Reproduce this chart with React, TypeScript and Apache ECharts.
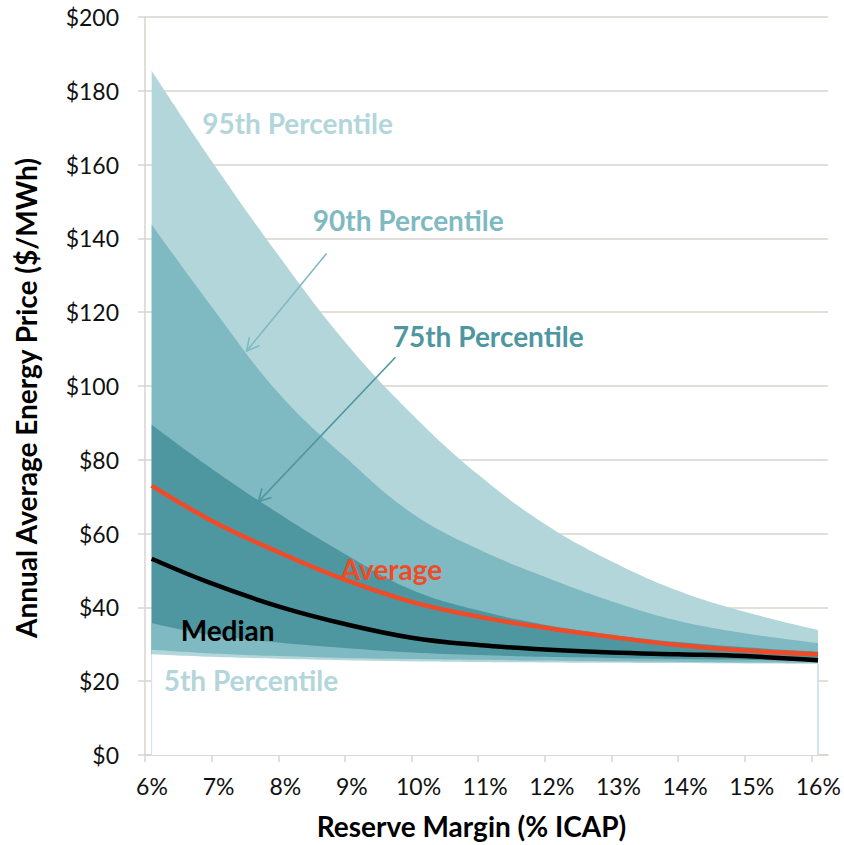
import React, { useEffect, useRef } from "react";
import * as echarts from "echarts";

// Reserve margin (% ICAP) sample points
const reserveMargin = [6.1, 7, 8, 9, 10, 11, 12, 13, 14, 15, 16.1];
// Price percentiles ($/MWh)
const p95 = [185.4, 161, 135.5, 112, 92.5, 76, 62.6, 52.5, 44.5, 38.8, 33.9];
const p90 = [143.8, 121.5, 98.2, 80.8, 65.6, 55.8, 48.3, 41.7, 36.4, 33.0, 30.3];
const p75 = [89.5, 77.6, 65.5, 54.5, 44.8, 39.2, 35.3, 32.6, 30.6, 29.2, 28.0];
const p25 = [35.7, 32.5, 30.5, 29.0, 27.8, 27.1, 26.6, 26.3, 26.0, 25.8, 25.5];
const p10 = [28.5, 27.5, 26.8, 26.3, 26.0, 25.8, 25.6, 25.4, 25.3, 25.1, 25.0];
const p05 = [27.3, 26.6, 26.1, 25.7, 25.4, 25.2, 25.1, 25.0, 24.9, 24.8, 24.7];
const average = [73, 63.5, 55, 47.5, 41.5, 37.5, 34.5, 32, 29.8, 28.3, 27.3];
const median = [53.2, 46.5, 40.3, 35.5, 31.8, 29.8, 28.6, 27.8, 27.3, 26.8, 25.7];

// Annotation texts (data coordinates of their centres)
const labelTexts = ["95th Percentile", "90th Percentile", "75th Percentile", "Average", "Median", "5th Percentile"];
const labelX = [8.29, 9.95, 11.15, 9.7, 7.24, 7.59];
const labelY = [171.4, 145.1, 113.5, 50.5, 34.0, 20.3];
// Arrows: start -> tip in data coordinates
const arrowFrom = [[8.724, 135.9], [9.759, 107.8]];
const arrowTo = [[7.525, 109.5], [7.699, 68.6]];

const LIGHT = "#b3d6db";
const MED = "#7fb9c1";
const DARK = "#4e97a1";
const RED = "#ef4b28";
const GRID = "#d8d5ce";
const FONT = "Lato";

const labelColors = [LIGHT, MED, DARK, RED, "#000000", LIGHT];
const arrowColors = [MED, DARK];

const pair = (ys: number[]) => reserveMargin.map((x, i) => [x, ys[i]]);

function band(name: string, ys: number[], color: string) {
  return {
    type: "line",
    name,
    data: pair(ys),
    smooth: 0.4,
    showSymbol: false,
    silent: true,
    lineStyle: { width: 0, opacity: 0 },
    areaStyle: { color, opacity: 1, origin: "start" },
  };
}

export default function App() {
  const ref = useRef<HTMLDivElement>(null);
  useEffect(() => {
    const chart = echarts.init(ref.current!, null, { renderer: "svg" });
    const last = reserveMargin.length - 1;
    chart.setOption({
      animation: false,
      textStyle: { fontFamily: FONT },
      grid: { left: 145, right: 16, top: 17, bottom: 88, containLabel: false },
      xAxis: {
        type: "value",
        min: 6,
        max: 16.25,
        interval: 1,
        name: "Reserve Margin (% ICAP)",
        nameLocation: "middle",
        nameGap: 57,
        nameTextStyle: { fontFamily: FONT, fontWeight: "bold", fontSize: 28, color: "#000", padding: [0, 30, 0, 0] },
        axisLine: { show: true, lineStyle: { color: GRID, width: 1.5 } },
        axisTick: { show: true, length: 7, lineStyle: { color: GRID, width: 1.5 } },
        splitLine: { show: false },
        axisLabel: {
          fontFamily: FONT,
          fontSize: 23,
          color: "#111",
          margin: 19,
          padding: [0, 0, 0, 14],
          showMaxLabel: false,
          formatter: (v: number) => (Math.abs(v - Math.round(v)) < 1e-6 ? Math.round(v) + "%" : ""),
        },
      },
      yAxis: {
        type: "value",
        min: 0,
        max: 200,
        interval: 20,
        name: "Annual Average Energy Price ($/MWh)",
        nameLocation: "middle",
        nameGap: 105,
        nameRotate: 90,
        nameTextStyle: { fontFamily: FONT, fontWeight: "bold", fontSize: 28, color: "#000", padding: [0, 24, 0, 0] },
        axisLine: { show: true, lineStyle: { color: GRID, width: 1.5 } },
        axisTick: { show: true, length: 7, lineStyle: { color: GRID, width: 1.5 } },
        splitLine: { show: true, lineStyle: { color: GRID, width: 1.5 } },
        axisLabel: {
          fontFamily: FONT,
          fontSize: 23,
          color: "#111",
          margin: 26,
          formatter: (v: number) => "$" + v,
        },
      },
      series: [
        band("95th", p95, LIGHT),
        band("90th", p90, MED),
        band("75th", p75, DARK),
        band("25th", p25, MED),
        band("10th", p10, LIGHT),
        band("5th", p05, "#ffffff"),
        {
          type: "line",
          data: [[reserveMargin[0], 0], [reserveMargin[0], p05[0]]],
          showSymbol: false,
          silent: true,
          lineStyle: { color: "#e2e2e2", width: 1 },
        },
        {
          type: "line",
          data: [[reserveMargin[last], 0], [reserveMargin[last], p05[last]]],
          showSymbol: false,
          silent: true,
          lineStyle: { color: "#c3dfe3", width: 1.5 },
        },
        {
          type: "line",
          name: "Average",
          data: pair(average),
          smooth: 0.4,
          showSymbol: false,
          lineStyle: { color: RED, width: 4.5 },
          z: 5,
        },
        {
          type: "line",
          name: "Median",
          data: pair(median),
          smooth: 0.4,
          showSymbol: false,
          lineStyle: { color: "#000", width: 4.5 },
          z: 5,
        },
      ],
    });

    const toPx = (p: number[]) => chart.convertToPixel({ xAxisIndex: 0, yAxisIndex: 0 }, p) as number[];
    const graphics: any[] = [];
    labelTexts.forEach((t, i) => {
      const [px, py] = toPx([labelX[i], labelY[i]]);
      graphics.push({
        type: "text",
        x: px,
        y: py,
        z: 10,
        style: {
          text: t,
          fill: labelColors[i],
          font: `bold 28px ${FONT}`,
          textAlign: "center",
          textVerticalAlign: "middle",
        },
      });
    });
    arrowFrom.forEach((f, i) => {
      const a = toPx(f);
      const b = toPx(arrowTo[i]);
      const ang = Math.atan2(a[1] - b[1], a[0] - b[0]);
      const L = 14;
      const w = (28 * Math.PI) / 180;
      const w1 = [b[0] + L * Math.cos(ang + w), b[1] + L * Math.sin(ang + w)];
      const w2 = [b[0] + L * Math.cos(ang - w), b[1] + L * Math.sin(ang - w)];
      graphics.push({
        type: "line",
        z: 10,
        shape: { x1: a[0], y1: a[1], x2: b[0], y2: b[1] },
        style: { stroke: arrowColors[i], lineWidth: 1.6 },
      });
      graphics.push({
        type: "polyline",
        z: 10,
        shape: { points: [w1, b, w2] },
        style: { stroke: arrowColors[i], lineWidth: 1.6, fill: "none" },
      });
    });
    chart.setOption({ graphic: graphics });

    return () => chart.dispose();
  }, []);

  return (
    <div
      ref={ref}
      style={{ position: "fixed", left: 0, top: 0, width: 844, height: 845, background: "#fff" }}
    />
  );
}
